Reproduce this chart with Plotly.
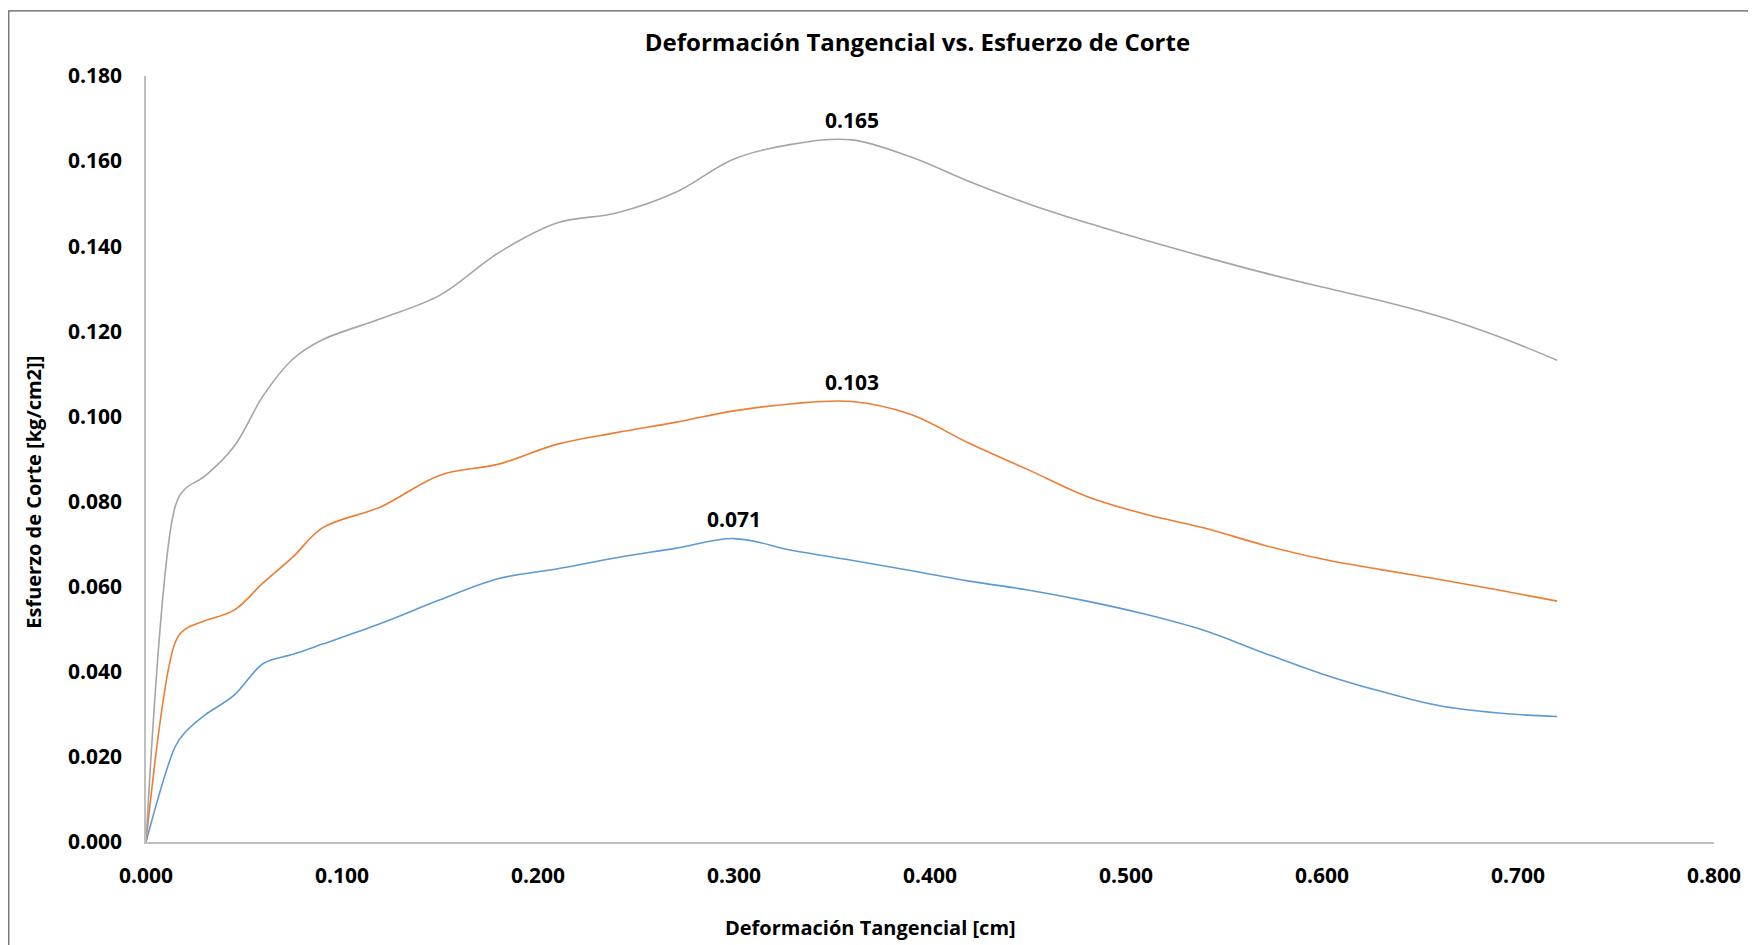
import plotly.graph_objects as go

# ---- data ----
deformacion = [0.0, 0.015, 0.02, 0.03, 0.045, 0.06, 0.075, 0.09, 0.12, 0.15, 0.18, 0.21,
               0.24, 0.27, 0.30, 0.33, 0.36, 0.39, 0.42, 0.45, 0.48, 0.51, 0.54, 0.57,
               0.60, 0.63, 0.66, 0.69, 0.72]
esfuerzo_1 = [0.0, 0.0225, 0.0258, 0.0298, 0.0345, 0.0420, 0.0441, 0.0465, 0.0514, 0.0569,
              0.0619, 0.0642, 0.0668, 0.0690, 0.0713, 0.0685, 0.0662, 0.0638, 0.0613, 0.0592,
              0.0566, 0.0535, 0.0497, 0.0445, 0.0395, 0.0354, 0.0320, 0.0303, 0.0295]
esfuerzo_2 = [0.0, 0.0470, 0.0500, 0.0520, 0.0545, 0.0610, 0.0670, 0.0738, 0.0788, 0.0862,
              0.0888, 0.0935, 0.0962, 0.0986, 0.1013, 0.1030, 0.1035, 0.1005, 0.0937, 0.0875,
              0.0812, 0.0770, 0.0738, 0.0698, 0.0665, 0.0640, 0.0617, 0.0592, 0.0566]
esfuerzo_3 = [0.0, 0.0790, 0.0830, 0.0860, 0.0930, 0.1050, 0.1135, 0.1180, 0.1230, 0.1285,
              0.1385, 0.1455, 0.1478, 0.1526, 0.1605, 0.1640, 0.1650, 0.1610, 0.1552, 0.1500,
              0.1455, 0.1414, 0.1375, 0.1338, 0.1304, 0.1272, 0.1235, 0.1188, 0.1132]
peak_labels = ["0.071", "0.103", "0.165"]

x_ticks = [0.0, 0.1, 0.2, 0.3, 0.4, 0.5, 0.6, 0.7, 0.8]
y_ticks = [0.0, 0.02, 0.04, 0.06, 0.08, 0.10, 0.12, 0.14, 0.16, 0.18]

colors = ["#5B9BD5", "#ED7D31", "#A5A5A5"]
FONT = "Open Sans, Liberation Sans, sans-serif"

fig = go.Figure()
series = [esfuerzo_1, esfuerzo_2, esfuerzo_3]
for ys, c in zip(series, colors):
    fig.add_trace(go.Scatter(x=deformacion, y=ys, mode="lines",
                             line=dict(color=c, width=1.6, shape="spline", smoothing=1.0),
                             showlegend=False, hoverinfo="x+y"))

annotations = []
for ys, lab in zip(series, peak_labels):
    i = max(range(len(ys)), key=lambda k: ys[k])
    annotations.append(dict(x=deformacion[i], y=ys[i], text=lab, showarrow=False,
                            xref="x", yref="y", yanchor="bottom", yshift=4,
                            font=dict(family=FONT, size=21, color="#000000", weight="bold")))

annotations.append(dict(text="Deformación Tangencial [cm]", xref="paper", yref="paper",
                        x=0.462, y=-0.111, showarrow=False, xanchor="center", yanchor="middle",
                        font=dict(family=FONT, size=20, color="#000000", weight="bold")))
annotations.append(dict(text="Esfuerzo de Corte [kg/cm2]]", xref="paper", yref="paper",
                        x=-0.0714, y=0.456, showarrow=False, textangle=-90,
                        xanchor="center", yanchor="middle",
                        font=dict(family=FONT, size=20, color="#000000", weight="bold")))

fig.update_layout(
    width=1748, height=937,
    margin=dict(l=138, r=42, t=68, b=103),
    paper_bgcolor="white", plot_bgcolor="white",
    title=dict(text="Deformación Tangencial vs. Esfuerzo de Corte",
               x=0.492, xref="paper", xanchor="center", y=1 - 34.5 / 937, yanchor="middle",
               font=dict(family=FONT, size=24, color="#000000", weight="bold")),
    annotations=annotations,
    shapes=[dict(type="rect", xref="paper", yref="paper",
                 x0=-0.0875, x1=1.3, y0=-0.4, y1=1.0849,
                 line=dict(color="#595959", width=1.2), fillcolor="rgba(0,0,0,0)", layer="below")],
)
fig.update_xaxes(range=[0, 0.8], tickvals=x_ticks, tickformat=".3f",
                 showgrid=False, zeroline=False, showline=True, linecolor="#BFBFBF",
                 linewidth=1.5, ticks="", ticklabelstandoff=14,
                 tickfont=dict(family=FONT, size=21, color="#000000", weight="bold"))
fig.update_yaxes(range=[0, 0.18], tickvals=y_ticks, tickformat=".3f",
                 showgrid=False, zeroline=False, showline=True, linecolor="#BFBFBF",
                 linewidth=1.5, ticks="", ticklabelstandoff=18,
                 tickfont=dict(family=FONT, size=21, color="#000000", weight="bold"))

fig.write_html("out.html")
